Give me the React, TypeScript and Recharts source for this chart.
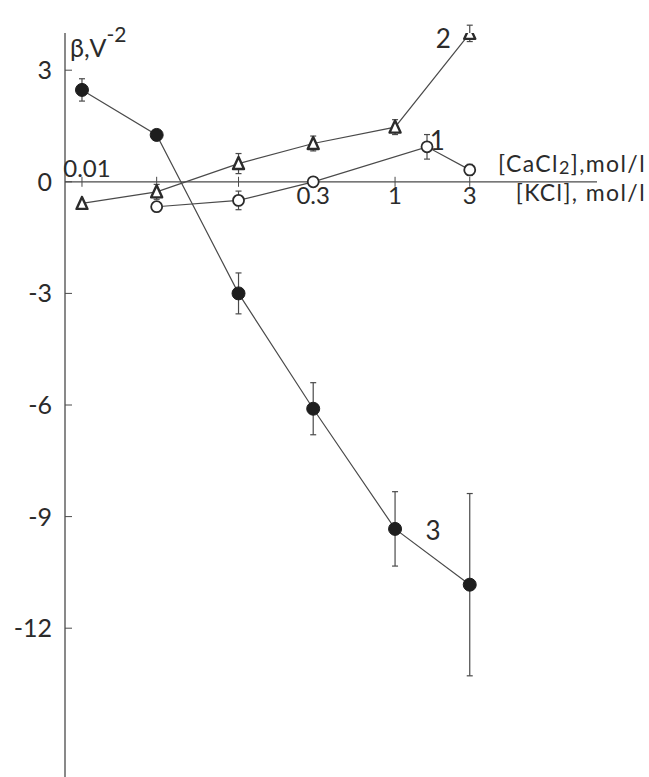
import React from 'react';
import { ComposedChart, Line, XAxis, YAxis, ErrorBar, ReferenceLine, ReferenceDot } from 'recharts';

// ---- data ----
const kclTicks = [0.01, 0.03, 0.1, 0.3, 1, 3];
const kclTickLabels = ['0.01', '', '', '0.3', '1', '3'];
const yTicks = [3, 0, -3, -6, -9, -12];

// curve 1 (open circles)
const c1X = [0.03, 0.1, 0.3, 1.6, 3];
const c1Y = [-0.67, -0.5, 0.0, 0.94, 0.32];
const c1Err = [0, 0.25, 0, 0.33, 0.15];

// curve 2 (open triangles)
const c2X = [0.01, 0.03, 0.1, 0.3, 1, 3];
const c2Y = [-0.58, -0.27, 0.49, 1.03, 1.47, 3.99];
const c2Err = [0, 0.2, 0.27, 0.2, 0.2, 0.22];

// curve 3 (filled circles)
const c3X = [0.01, 0.03, 0.1, 0.3, 1, 3];
const c3Y = [2.47, 1.26, -3.0, -6.1, -9.33, -10.83];
const c3Err = [0.3, 0.12, 0.55, 0.7, 1.0, 2.45];

// curve labels (data coordinates)
const curveLabels = [
  { text: '1', x: 1.86, y: 1.1 },
  { text: '2', x: 2.03, y: 3.84 },
  { text: '3', x: 1.75, y: -9.38 },
];

const xDomain = [0.00779, 19.5];
const yDomain = [-16, 4];

const build = (xs: number[], ys: number[], es: number[]) =>
  xs.map((x, i) => ({ x, y: ys[i], err: es[i] }));

const d1 = build(c1X, c1Y, c1Err);
const d2 = build(c2X, c2Y, c2Err);
const d3 = build(c3X, c3Y, c3Err);

const FONT = 'Lato, "Open Sans", sans-serif';
const INK = '#2b2b2b';
const LINE = '#4a4a4a';

const FilledDot = (p: any) => (
  <circle key={`f${p.index}`} cx={p.cx} cy={p.cy} r={6.5} fill="#1e1e1e" stroke="#1e1e1e" />
);
const OpenDot = (p: any) => (
  <circle key={`o${p.index}`} cx={p.cx} cy={p.cy} r={5.5} fill="#fff" stroke={INK} strokeWidth={1.8} />
);
const TriDot = (p: any) => {
  const { cx, cy } = p;
  const h = 11, w = 11;
  const pts = `${cx},${cy - h / 2 - 1} ${cx - w / 2},${cy + h / 2} ${cx + w / 2},${cy + h / 2}`;
  return <polygon key={`t${p.index}`} points={pts} fill="#fff" stroke={INK} strokeWidth={2.4} strokeLinejoin="round" />;
};

const YTick = (p: any) => {
  const { x, y, payload } = p;
  return (
    <g>
      <line x1={x} x2={x + 7} y1={y} y2={y} stroke={LINE} strokeWidth={1} />
      <text x={x - 13} y={y} dy={9} textAnchor="end" fontFamily={FONT} fontSize={25} fill={INK}>
        {payload.value}
      </text>
    </g>
  );
};

const YTitle = (p: any) => {
  const vb = p.viewBox || {};
  const x = vb.x + vb.width + 5;
  const y = vb.y + 24;
  return (
    <text x={x} y={y} fontFamily={FONT} fontSize={25} fill={INK}>
      β,V<tspan dy={-15} fontSize={21}>-2</tspan>
    </text>
  );
};

const XTitles = (p: any) => {
  const vb = p.viewBox || {};
  const right = vb.x + vb.width + 49;
  const y0 = vb.y;
  return (
    <g fontFamily={FONT} fill={INK}>
      <text x={right} y={y0 - 10} textAnchor="end" fontSize={23} letterSpacing={1.4}>
        [CaCl<tspan dy={2} fontSize={18}>2</tspan><tspan dy={-2}>],mol/l</tspan>
      </text>
      <text x={right} y={y0 + 19} textAnchor="end" fontSize={23} letterSpacing={1.4}>
        [KCl], mol/l
      </text>
    </g>
  );
};

const makeXTick = (label: string, idx: number) => (p: any) => {
  const { cx, cy } = p;
  const above = idx === 0;
  return (
    <g>
      <line x1={cx} x2={cx} y1={cy - 5} y2={cy + 5} stroke={LINE} strokeWidth={1} />
      {label ? (
        <text
          x={above ? cx + 5 : cx}
          y={above ? cy - 5 : cy + 22}
          textAnchor="middle"
          fontFamily={FONT}
          fontSize={24}
          fill={INK}
        >
          {label}
        </text>
      ) : null}
    </g>
  );
};

const makeCurveLabel = (text: string) => (p: any) => (
  <text x={p.cx} y={p.cy} dy={9} textAnchor="middle" fontFamily={FONT} fontSize={26} fill={INK}>
    {text}
  </text>
);

export default function App() {
  return (
    <div style={{ width: 649, height: 777, background: '#fff' }}>
      <style>{'html,body{margin:0;padding:0;overflow:hidden;background:#fff}'}</style>
      <ComposedChart width={649} height={777} margin={{ top: 33, right: 52, bottom: 0, left: 0 }}>
        <XAxis
          dataKey="x"
          type="number"
          scale="log"
          domain={xDomain}
          allowDataOverflow
          hide
        />
        <YAxis
          type="number"
          domain={yDomain}
          ticks={yTicks}
          allowDataOverflow
          width={65}
          tickSize={0}
          tickMargin={0}
          tickLine={false}
          axisLine={{ stroke: LINE, strokeWidth: 1.3 }}
          tick={<YTick />}
          interval={0}
          label={<YTitle />}
        />
        <ReferenceLine y={0} stroke={LINE} strokeWidth={1.3} label={<XTitles />} />
        {kclTicks.map((t, i) => (
          <ReferenceDot key={`xt${i}`} x={t} y={0} r={0} shape={makeXTick(kclTickLabels[i], i)} />
        ))}
        <Line
          data={d1}
          dataKey="y"
          stroke={LINE}
          strokeWidth={1.2}
          dot={OpenDot}
          activeDot={false}
          isAnimationActive={false}
        >
          <ErrorBar dataKey="err" direction="y" width={3} stroke={LINE} strokeWidth={1.2} />
        </Line>
        <Line
          data={d2}
          dataKey="y"
          stroke={LINE}
          strokeWidth={1.2}
          dot={TriDot}
          activeDot={false}
          isAnimationActive={false}
        >
          <ErrorBar dataKey="err" direction="y" width={3} stroke={LINE} strokeWidth={1.2} />
        </Line>
        <Line
          data={d3}
          dataKey="y"
          stroke={LINE}
          strokeWidth={1.2}
          dot={FilledDot}
          activeDot={false}
          isAnimationActive={false}
        >
          <ErrorBar dataKey="err" direction="y" width={3} stroke={LINE} strokeWidth={1.2} />
        </Line>
        {curveLabels.map((c, i) => (
          <ReferenceDot key={`cl${i}`} x={c.x} y={c.y} r={0} shape={makeCurveLabel(c.text)} />
        ))}
      </ComposedChart>
    </div>
  );
}
